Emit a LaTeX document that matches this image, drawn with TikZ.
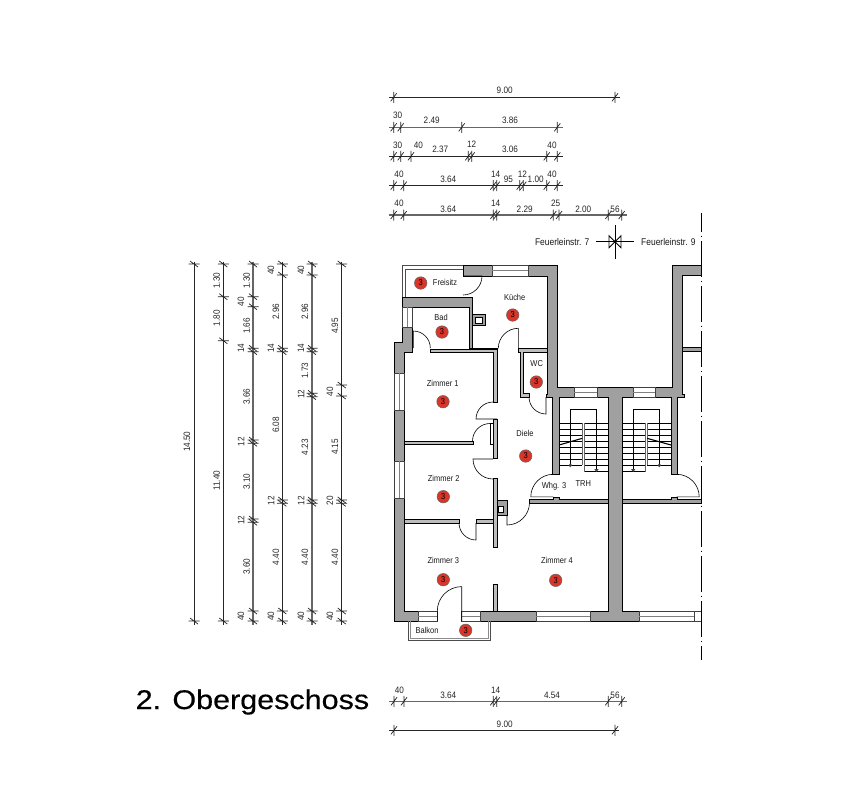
\documentclass[tikz,border=0pt]{standalone}
\usepackage{fontspec}
\usetikzlibrary{calc}
\setmainfont{Liberation Sans}
\newfontfamily\dimfont[FakeStretch=0.88]{Liberation Sans}
\newfontfamily\roomfont[FakeStretch=0.87]{Liberation Sans}
\newfontfamily\titlefont[FakeStretch=1.13,FakeBold=0.4]{Liberation Sans}
\definecolor{wallgrey}{HTML}{A0A0A0}
\definecolor{roomred}{HTML}{D8362A}

\tikzset{
  dimblack/.style={draw=black!85,line width=.7pt},
  dimgrey/.style={draw=black!60,line width=1.1pt},
  dimtext/.style={inner sep=0pt,text=black!85,font=\dimfont\fontsize{9.3}{10}\selectfont},
  dimup/.style={dimtext,rotate=90},
  roomtext/.style={inner sep=0pt,text=black!90,font=\roomfont\fontsize{8.6}{10}\selectfont},
  firetext/.style={inner sep=0pt,text=black!90,font=\roomfont\fontsize{9.7}{10}\selectfont},
  roomno/.style={circle,draw=black!60,fill=roomred,line width=.5pt,minimum size=12.5pt,inner sep=0pt,
    font=\roomfont\fontsize{8.6}{10}\selectfont},
  wall/.style={draw=black,fill=wallgrey,line width=.9pt},
  wallthin/.style={draw=black,fill=wallgrey!70,line width=.8pt},
  windowframe/.style={draw=black!75,fill=white,line width=.7pt},
  windowmid/.style={draw=black!50,line width=1pt},
  door/.style={draw=black,line width=.6pt},
  tread/.style={draw=black,line width=.55pt},
  rail/.style={draw=black!60,line width=.8pt},
  frame/.style={draw=black!70,line width=.8pt},
}

\newcommand{\hchain}[5]{
  \draw[#1] (#3,#2) -- (#4,#2);
  \foreach \x in {#5}
    \draw[dimblack] (\x-3,#2+4) -- (\x+3,#2-4) (\x,#2-5.5) -- (\x,#2+5.5);
}
\newcommand{\vchain}[3]{
  \draw[#1] (#2,261.5) -- (#2,625);
  \foreach \y in {#3}
    \draw[dimblack] (#2-4,\y-3) -- (#2+4,\y+3) (#2-5.5,\y) -- (#2+5.5,\y);
}
\newcommand{\windowh}[4]{
  \draw[windowframe] (#1,#3) rectangle (#2,#4);
  \draw[windowmid] ($(#1,#3)!.5!(#1,#4)$) -- ($(#2,#3)!.5!(#2,#4)$);
}
\newcommand{\windowv}[4]{
  \draw[windowframe] (#1,#3) rectangle (#2,#4);
  \draw[windowmid] ($(#1,#3)!.5!(#2,#3)$) -- ($(#1,#4)!.5!(#2,#4)$);
}

\begin{document}
\begin{tikzpicture}[x=1pt,y=-1pt]
  \useasboundingbox[fill=white] (0,0) rectangle (858,788);

  % dimension chains, top
  \hchain{dimblack}{97.3}{389.3}{620}{393.7,615}
  \hchain{dimgrey}{127.3}{389.3}{562.7}{393.7,400.7,461.7,557.3}
  \hchain{dimblack}{156.3}{389.3}{562.7}{393.7,400.7,411,468.3,471.7,546.7,557.3}
  \hchain{dimblack}{185.7}{389.3}{562.7}{393.7,403.7,493.3,496.7,519.7,523.3,546.7,557.3}
  \hchain{dimgrey}{215}{389.3}{626.7}{393.7,403.7,493.3,496.7,553.3,559,608.3,621.7}
  % dimension chains, bottom
  \hchain{dimgrey}{701.3}{389.3}{626.7}{394,404,493.3,496.7,608.3,621.7}
  \hchain{dimblack}{730.3}{389.3}{619.3}{394,615}
  \foreach \x/\y/\txt [count=\i] in {
    504.7/90.5/9.00,
    397.7/115.7/30, 431.7/120.3/2.49, 510/120.3/3.86,
    397.7/145/30, 418.3/145/40, 440.3/149.3/2.37, 471.7/144.3/12, 510/149.3/3.06, 552/145/40,
    399/174.3/40, 448.3/179/3.64, 495.7/174.3/14, 508.3/179/95, 522.3/174.3/12, 535.7/179/1.00, 552/174.3/40,
    399/203.7/40, 448.3/209/3.64, 495.7/203.7/14, 524.7/209/2.29, 555.7/203.7/25, 583.3/209/2.00, 615/209/56,
    399.3/690/40, 448.3/695/3.64, 495.7/690/14, 552/695/4.54, 615/695/56,
    504.7/724.3/9.00}
    \node[dimtext] (hdim\i) at (\x,\y) {\txt};

  % dimension chains, left
  \vchain{dimblack}{194}{264,621}
  \vchain{dimblack}{223.3}{264,296.7,340.7,621}
  \vchain{dimgrey}{253}{264,296.7,306.7,348.3,351.7,440,443.3,519,522.3,611,621}
  \vchain{dimblack}{282.3}{264,275,348.3,351.7,500,503.3,611,621}
  \vchain{dimgrey}{312}{264,275,348.3,351.7,393.3,396.7,500,503.3,611,621}
  \vchain{dimblack}{341.7}{264,385,396,500,503.3,611,621}
  \foreach \x/\y/\txt [count=\i] in {
    187/441.7/14.50,
    216.7/280.7/1.30, 216.7/318.3/1.80, 216.7/480.7/11.40,
    246.7/280.7/1.30, 241/301.7/40, 246.7/326/1.66, 241/348.3/14, 246.7/396.7/3.66, 241/441.7/12,
    246.7/481.7/3.10, 241/520/12, 246.7/566.7/3.60, 241/616/40,
    271/270/40, 276/311.7/2.96, 271/348.3/14, 276/425/6.08, 271/500.7/12, 276/557.3/4.40, 271/616/40,
    301/270/40, 305/311.7/2.96, 301/348.3/14, 305/370.7/1.73, 301/394/12, 305/447.3/4.23, 301/500.7/12,
    305/557.3/4.40, 301/616/40,
    335/326/4.95, 330/391.7/40, 335/447/4.15, 330/500.7/20, 335/557.3/4.40, 330/616/40}
    \node[dimup] (vdim\i) at (\x,\y) {\txt};

  % fire wall mark
  \node[firetext,anchor=east] (feuer7) at (589.5,241.7) {Feuerleinstr. 7};
  \node[firetext,anchor=west] (feuer9) at (641,241.7) {Feuerleinstr. 9};
  \draw[door] (596,241.7) -- (634,241.7) (615,225) -- (615,259);
  \draw[door,line width=.8pt] (609,235.7) -- (621,247.7) -- (621,235.7) -- (609,247.7) -- cycle;
  \fill (615,241.7) circle (1.5);

  % outer walls
  \draw[wall] (463,265) rectangle (492,276);
  \draw[wall] (528,265) -- (557,265) -- (557,387) -- (574,387) -- (574,397) -- (559,397) -- (559,474)
    -- (552,474) -- (552,397) -- (546,397) -- (546,394) -- (547,394) -- (547,276) -- (528,276) -- cycle;
  \draw[wall] (597,387) -- (633,387) -- (633,397) -- (622,397) -- (622,611) -- (639,611) -- (639,621)
    -- (590,621) -- (590,611) -- (608,611) -- (608,397) -- (597,397) -- cycle;
  \draw[wall] (701,265) -- (672,265) -- (672,387) -- (655,387) -- (655,397) -- (671,397) -- (671,474)
    -- (677,474) -- (677,397) -- (684,397) -- (684,394) -- (682,394) -- (682,275) -- (701,275) -- cycle;
  \draw[wall] (682,347) rectangle (701,351);
  \draw[wall] (402,297) -- (472,297) -- (472,348) -- (469,348) -- (469,307) -- (402,307) -- cycle;
  \draw[wall] (402,327) -- (412,327) -- (412,352) -- (404,352) -- (404,373) -- (394,373) -- (394,342)
    -- (402,342) -- cycle;
  \draw[wall] (394,410) rectangle (404,461);
  \draw[wall] (394,498) -- (404,498) -- (404,611) -- (418,611) -- (418,621) -- (394,621) -- cycle;
  \draw[wall] (480,611) rectangle (536,621);
  \draw[wall] (529,499) -- (553,499) -- (553,497) -- (559,497) -- (559,499) -- (608,499) -- (608,503) -- (529,503) -- cycle;
  \draw[wall] (622,499) -- (671,499) -- (671,497) -- (677,497) -- (677,499) -- (701,499) -- (701,503) -- (622,503) -- cycle;

  % windows
  \windowh{492}{528}{265}{276}
  \foreach \xa/\xb in {574/597,633/655}
    \windowh{\xa}{\xb}{387}{397}
  \foreach \xa/\xb in {418/437.3,461.7/480,536/590,639/694}
    \windowh{\xa}{\xb}{611}{621}
  \draw[windowframe] (694,611) rectangle (701,621);
  \windowv{402}{412}{307}{327}
  \windowv{394}{404}{373}{410}
  \windowv{394}{404}{461}{498}

  % inner walls
  \draw[wallthin] (430,349) -- (497,349) -- (497,402) -- (493,402) -- (493,352) -- (430,352) -- cycle;
  \draw[door,line width=1pt] (472,348) -- (498.3,348);
  \draw[wallthin] (518,348) -- (547,348) -- (547,352) -- (523.5,352) -- (523.5,393) -- (529,393)
    -- (529,397) -- (520,397) -- (520,352) -- (518,352) -- cycle;
  \draw[wallthin] (404,441) rectangle (473,444);
  \draw[wallthin] (493,419) rectangle (497,458);
  \draw[wallthin] (493,478) rectangle (497,547);
  \draw[wallthin] (404,519) rectangle (459,523);
  \draw[wallthin] (476,519) rectangle (493,523);
  \draw[wallthin] (493,584) rectangle (497,611);
  \draw[door] (490,423) rectangle (493,444);

  % chimneys
  \draw[wall] (472,314) rectangle (485,325);
  \draw[draw=black,fill=white,line width=.9pt] (475,317) rectangle (482,323);
  \draw[wall] (497,500) rectangle (507,515);
  \draw[draw=black,fill=white,line width=.9pt] (498,506) rectangle (503,512);

  % doors
  \draw[door] (463,276) -- (482,276) arc[start angle=0,end angle=90,radius=19];
  \draw[door] (413.3,348) -- (413.3,331) arc[start angle=-90,end angle=0,radius=17];
  \draw[door] (518.3,348) -- (518.3,328.3) arc[start angle=-90,end angle=-180,radius=20];
  \draw[door] (546,397) -- (546,414) arc[start angle=90,end angle=180,radius=17];
  \draw[door] (497,419) -- (476,419) arc[start angle=180,end angle=270,radius=17];
  \draw[door] (490,423.5) arc[start angle=-90,end angle=-180,radius=17.5];
  \draw[door] (493,459) -- (473,459) arc[start angle=180,end angle=90,radius=20];
  \draw[door] (507,515) -- (507,525) arc[start angle=90,end angle=0,radius=22.5];
  \draw[door] (553.3,474.3) arc[start angle=-90,end angle=-180,radius=22.5] -- (553.3,496.8);
  \draw[door] (676.7,474.3) arc[start angle=-90,end angle=0,radius=22.5] -- (676.7,496.8);
  \draw[door] (459,523) arc[start angle=180,end angle=90,radius=17] -- (476,523);
  \draw[door] (437.3,621) -- (437.3,611) arc[start angle=180,end angle=270,radius=24.4] -- (461.7,621);

  % stairs
  \foreach \y in {423.3,429.3,435.3,441.3,447.3,453.3,459.3,465.3}{
    \draw[tread] (559,\y) -- (582.3,\y);
    \draw[tread] (584.3,\y) -- (608,\y);
    \draw[tread] (622,\y) -- (645,\y);
    \draw[tread] (647,\y) -- (671,\y);
  }
  \draw[tread] (584.3,471.7) -- (608,471.7) (622,471.7) -- (645,471.7);
  \draw[rail] (582.3,423.3) -- (582.3,465.3) (584.3,423.3) -- (584.3,471.7);
  \draw[rail] (645,423.3) -- (645,471.7) (647,423.3) -- (647,465.3);
  \draw[door] (570.3,465.3) -- (570.3,409.3) -- (596.7,409.3) -- (596.7,470);
  \draw[door] (633.3,470) -- (633.3,409.3) -- (659.3,409.3) -- (659.3,465.3);
  \draw[door,line width=1.1pt] (559,445) -- (582.3,438.3) (647,438.3) -- (671,445);
  \fill[black!75] (570.3,465.3) circle (1.8) (659.3,465.3) circle (1.8);
  \fill[black!75] (594.3,469) -- (598.7,469) -- (596.5,472) -- cycle (631,469) -- (635.4,469) -- (633.2,472) -- cycle;

  % freisitz and balkon
  \draw[frame] (402,297) -- (402,265) -- (463,265) (405,297) -- (405,269) -- (463,269);
  \draw[frame] (408,621) -- (408,640) -- (490,640) -- (490,621);
  \draw[frame,draw=black!45] (410,621) -- (410,638) -- (488,638) -- (488,621);

  % cut line
  \draw[black,line width=1pt,dash pattern=on 36pt off 3.5pt on 1.5pt off 4pt,dash phase=17pt] (701,213) -- (701,660);

  % room labels
  \foreach \nm/\x/\y/\txt in {
    freisitz/445/282.7/Freisitz, kueche/514.7/297.7/Küche, bad/441/317/Bad,
    zimmera/442.7/383.7/Zimmer 1, wc/536.7/363.3/WC, diele/525/433/Diele,
    zimmerb/443.7/478.7/Zimmer 2, zimmerc/443.3/560/Zimmer 3, zimmerd/557/560.3/Zimmer 4,
    balkon/427/630.7/Balkon, whg/554/486/Whg. 3, trh/583.3/483.7/TRH}
    \node[roomtext] (\nm) at (\x,\y) {\txt};

  % floor marks
  \foreach \nm/\x/\y in {
    nofrei/420.7/283, nokueche/512.7/315, nobad/442/332, noza/443/401.7, nowc/536.3/382,
    nodiele/525.7/456, nozb/443.3/496.7, nozc/443.3/579.7, nozd/555.7/580.3, nobalk/465.7/630.3}
    \node[roomno] (\nm) at (\x,\y) {3};

  \node[anchor=base west,inner sep=0pt,font=\titlefont\fontsize{27}{30}\selectfont] (title) at (135.5,709) {2. Obergeschoss};
\end{tikzpicture}
\end{document}
